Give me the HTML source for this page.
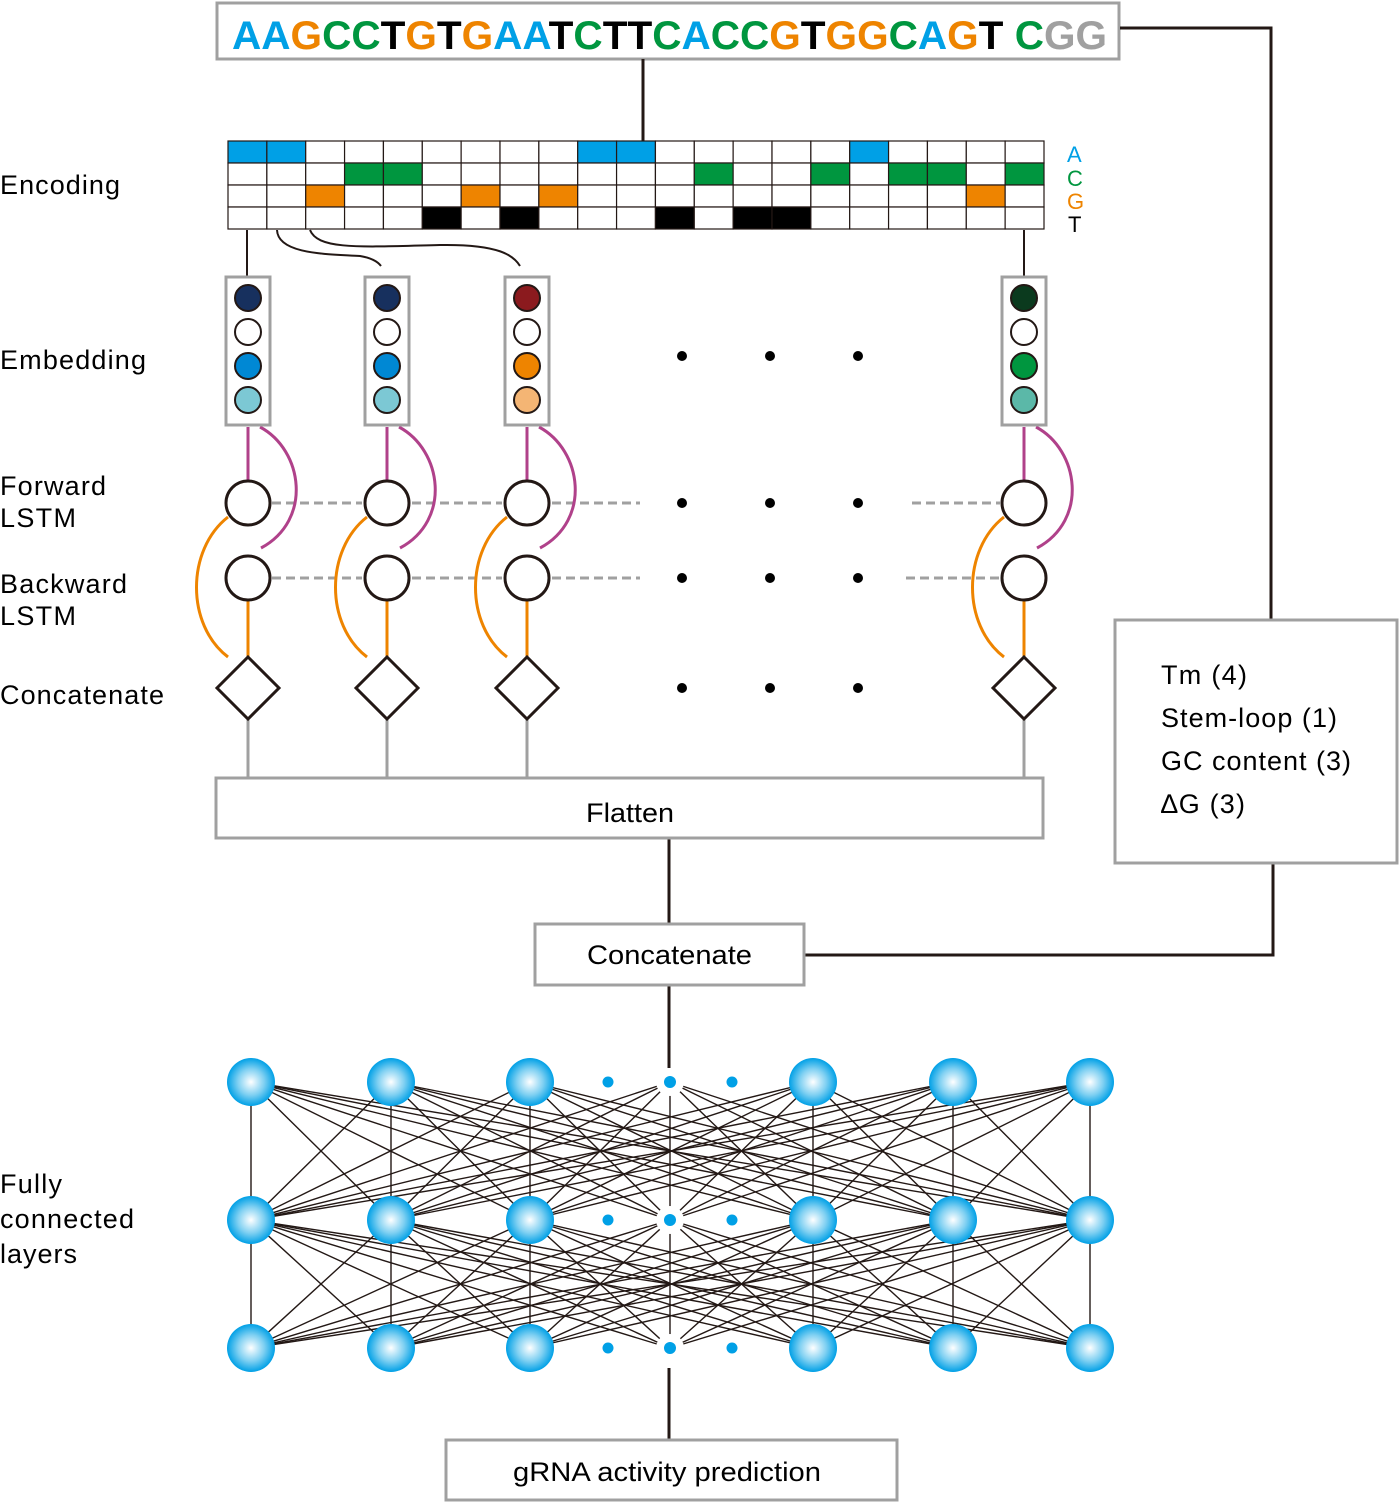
<!DOCTYPE html>
<html><head><meta charset="utf-8"><style>
html,body{margin:0;padding:0;background:#fff;}
svg{display:block;font-family:"Liberation Sans",Arial,sans-serif;}
</style></head><body>
<svg width="1399" height="1503" viewBox="0 0 1399 1503" xmlns="http://www.w3.org/2000/svg">
<defs>
<radialGradient id="ng" cx="0.5" cy="0.5" r="0.5">
<stop offset="0" stop-color="#ffffff"/><stop offset="0.55" stop-color="#7fd0f2"/><stop offset="1" stop-color="#00a0e6"/>
</radialGradient>
</defs>
<rect x="217" y="3" width="902" height="56" fill="#fff" stroke="#a0a0a0" stroke-width="3"/>
<text y="49" font-size="40" font-weight="bold" x="232" textLength="875" lengthAdjust="spacingAndGlyphs"><tspan fill="#00a0e6">AA</tspan><tspan fill="#ee8400">G</tspan><tspan fill="#00963f">CC</tspan><tspan fill="#000">T</tspan><tspan fill="#ee8400">G</tspan><tspan fill="#000">T</tspan><tspan fill="#ee8400">G</tspan><tspan fill="#00a0e6">AA</tspan><tspan fill="#000">T</tspan><tspan fill="#00963f">C</tspan><tspan fill="#000">TT</tspan><tspan fill="#00963f">C</tspan><tspan fill="#00a0e6">A</tspan><tspan fill="#00963f">CC</tspan><tspan fill="#ee8400">G</tspan><tspan fill="#000">T</tspan><tspan fill="#ee8400">GG</tspan><tspan fill="#00963f">C</tspan><tspan fill="#00a0e6">A</tspan><tspan fill="#ee8400">G</tspan><tspan fill="#000">T </tspan><tspan fill="#00963f">C</tspan><tspan fill="#a0a0a0">GG</tspan></text>
<g stroke="#231815" stroke-width="3" fill="none">
<line x1="643" y1="59" x2="643" y2="141"/>
<polyline points="1120,28 1271,28 1271,620"/>
<polyline points="804,955 1273,955 1273,863"/>
<line x1="669" y1="838" x2="669" y2="924"/>
<line x1="669" y1="985" x2="669" y2="1068"/>
<line x1="669" y1="1368" x2="669" y2="1440"/>
</g>
<g id="grid"></g>
<g font-size="22"><text x="1067" y="162" fill="#00a0e6">A</text><text x="1067" y="186" fill="#00963f">C</text><text x="1067" y="209" fill="#ee8400">G</text><text x="1068" y="232" fill="#000">T</text></g>
<g font-size="27" fill="#000" lengthAdjust="spacingAndGlyphs">
<text x="0" y="194" textLength="120">Encoding</text>
<text x="0" y="369" textLength="146">Embedding</text>
<text x="0" y="495" textLength="106">Forward</text><text x="0" y="527" textLength="76">LSTM</text>
<text x="0" y="593" textLength="127">Backward</text><text x="0" y="625" textLength="76">LSTM</text>
<text x="0" y="704" textLength="164">Concatenate</text>
<text x="0" y="1193" textLength="62">Fully</text><text x="0" y="1228" textLength="134">connected</text><text x="0" y="1263" textLength="77">layers</text>
</g>
<g stroke="#231815" stroke-width="2" fill="none">
<line x1="247" y1="230" x2="247" y2="277"/>
<line x1="1024" y1="230" x2="1024" y2="277"/>
<path d="M277,230 C278,255 330,254 360,256 C372,258 378,262 381,266"/>
<path d="M310,230 C318,250 360,247 440,245 C500,244 514,256 520,266"/>
</g>
<g id="cols"></g>
<g fill="#000" id="dots"></g>
<rect x="216" y="778" width="827" height="60" fill="#fff" stroke="#a0a0a0" stroke-width="3"/>
<text x="586" y="822" font-size="27" textLength="88" lengthAdjust="spacingAndGlyphs">Flatten</text>
<rect x="535" y="924" width="269" height="61" fill="#fff" stroke="#a0a0a0" stroke-width="3"/>
<text x="587" y="964" font-size="27" textLength="165" lengthAdjust="spacingAndGlyphs">Concatenate</text>
<rect x="1115" y="620" width="282" height="243" fill="#fff" stroke="#a0a0a0" stroke-width="3"/>
<g font-size="27" lengthAdjust="spacingAndGlyphs"><text x="1161" y="684" textLength="86">Tm (4)</text><text x="1161" y="727" textLength="176">Stem-loop (1)</text><text x="1161" y="770" textLength="190">GC content (3)</text><text x="1161" y="813" textLength="84">∆G (3)</text></g>
<rect x="446" y="1440" width="451" height="60" fill="#fff" stroke="#a0a0a0" stroke-width="3"/>
<text x="513" y="1481" font-size="27" textLength="308" lengthAdjust="spacingAndGlyphs">gRNA activity prediction</text>
<g id="net"></g>
<script>
var NS="http://www.w3.org/2000/svg";
function el(p,t,a){var e=document.createElementNS(NS,t);for(var k in a)e.setAttribute(k,a[k]);p.appendChild(e);return e;}
var g=document.getElementById('grid');var w=(1044-228)/21;
var rows={0:[0,1,9,10,16],1:[3,4,12,15,17,18,20],2:[2,6,8,19],3:[5,7,11,13,14]};
var cols=['#00a0e6','#00963f','#ee8400','#000'];
for(var r=0;r<4;r++)for(var c=0;c<21;c++){var f=rows[r].indexOf(c)>=0?cols[r]:'#fff';
el(g,'rect',{x:228+c*w,y:141+r*22,width:w,height:22,fill:f,stroke:'#231815','stroke-width':1.2});}
var cg=document.getElementById('cols');
var X=[248,387,527,1024];
var ec=[['#17305e','#fff','#0088d4','#7cc8d4'],['#17305e','#fff','#0088d4','#7cc8d4'],['#8b1a1e','#fff','#ee8400','#f4b574'],['#0b3a1e','#fff','#00963f','#5bb8a8']];
[[503,[[272,362],[412,502],[552,640],[912,1000]]],[578,[[272,362],[412,502],[552,640],[906,1000]]]].forEach(function(d){d[1].forEach(function(s){el(cg,'line',{x1:s[0],y1:d[0],x2:s[1],y2:d[0],stroke:'#a0a0a0','stroke-width':3,'stroke-dasharray':'9,5'});});});
X.forEach(function(x,i){
el(cg,'line',{x1:x,y1:720,x2:x,y2:778,stroke:'#a0a0a0','stroke-width':3});
el(cg,'line',{x1:x,y1:427,x2:x,y2:481,stroke:'#b0418a','stroke-width':3});
el(cg,'path',{d:'M'+(x+12)+',427 C'+(x+55)+',450 '+(x+65)+',520 '+(x+13)+',548',stroke:'#b0418a','stroke-width':3,fill:'none'});
el(cg,'line',{x1:x,y1:600,x2:x,y2:658,stroke:'#ee8400','stroke-width':3});
el(cg,'path',{d:'M'+(x-20)+',517 C'+(x-62)+',550 '+(x-62)+',625 '+(x-20)+',657',stroke:'#ee8400','stroke-width':3,fill:'none'});
el(cg,'rect',{x:x-22,y:277,width:44,height:148,fill:'#fff',stroke:'#a0a0a0','stroke-width':3});
for(var k=0;k<4;k++)el(cg,'circle',{cx:x,cy:298+k*34,r:13,fill:ec[i][k],stroke:'#231815','stroke-width':2});
el(cg,'circle',{cx:x,cy:503,r:22,fill:'#fff',stroke:'#231815','stroke-width':3});
el(cg,'circle',{cx:x,cy:578,r:22,fill:'#fff',stroke:'#231815','stroke-width':3});
el(cg,'polygon',{points:x+','+657+' '+(x+31)+',688 '+x+',719 '+(x-31)+',688',fill:'#fff',stroke:'#231815','stroke-width':3});
});
var dg=document.getElementById('dots');
[356,503,578,688].forEach(function(y){[682,770,858].forEach(function(x){el(dg,'circle',{cx:x,cy:y,r:5});});});
var ng=document.getElementById('net');
var NX=[251,391,530,670,813,953,1090],NY=[1082,1220,1348];
for(var l=0;l<2;l++)for(var a=0;a<7;a++)for(var b=0;b<7;b++)
el(ng,'line',{x1:NX[a],y1:NY[l],x2:NX[b],y2:NY[l+1],stroke:'#231815','stroke-width':1.4});
NY.forEach(function(y){NX.forEach(function(x){
if(x==670){el(ng,'circle',{cx:x,cy:y,r:14,fill:'#fff'});el(ng,'circle',{cx:x,cy:y,r:6,fill:'#00a0e6'});}
else el(ng,'circle',{cx:x,cy:y,r:24,fill:'url(#ng)'});});
el(ng,'circle',{cx:608,cy:y,r:5.5,fill:'#00a0e6'});el(ng,'circle',{cx:732,cy:y,r:5.5,fill:'#00a0e6'});});
</script>
</svg>
</body></html>
